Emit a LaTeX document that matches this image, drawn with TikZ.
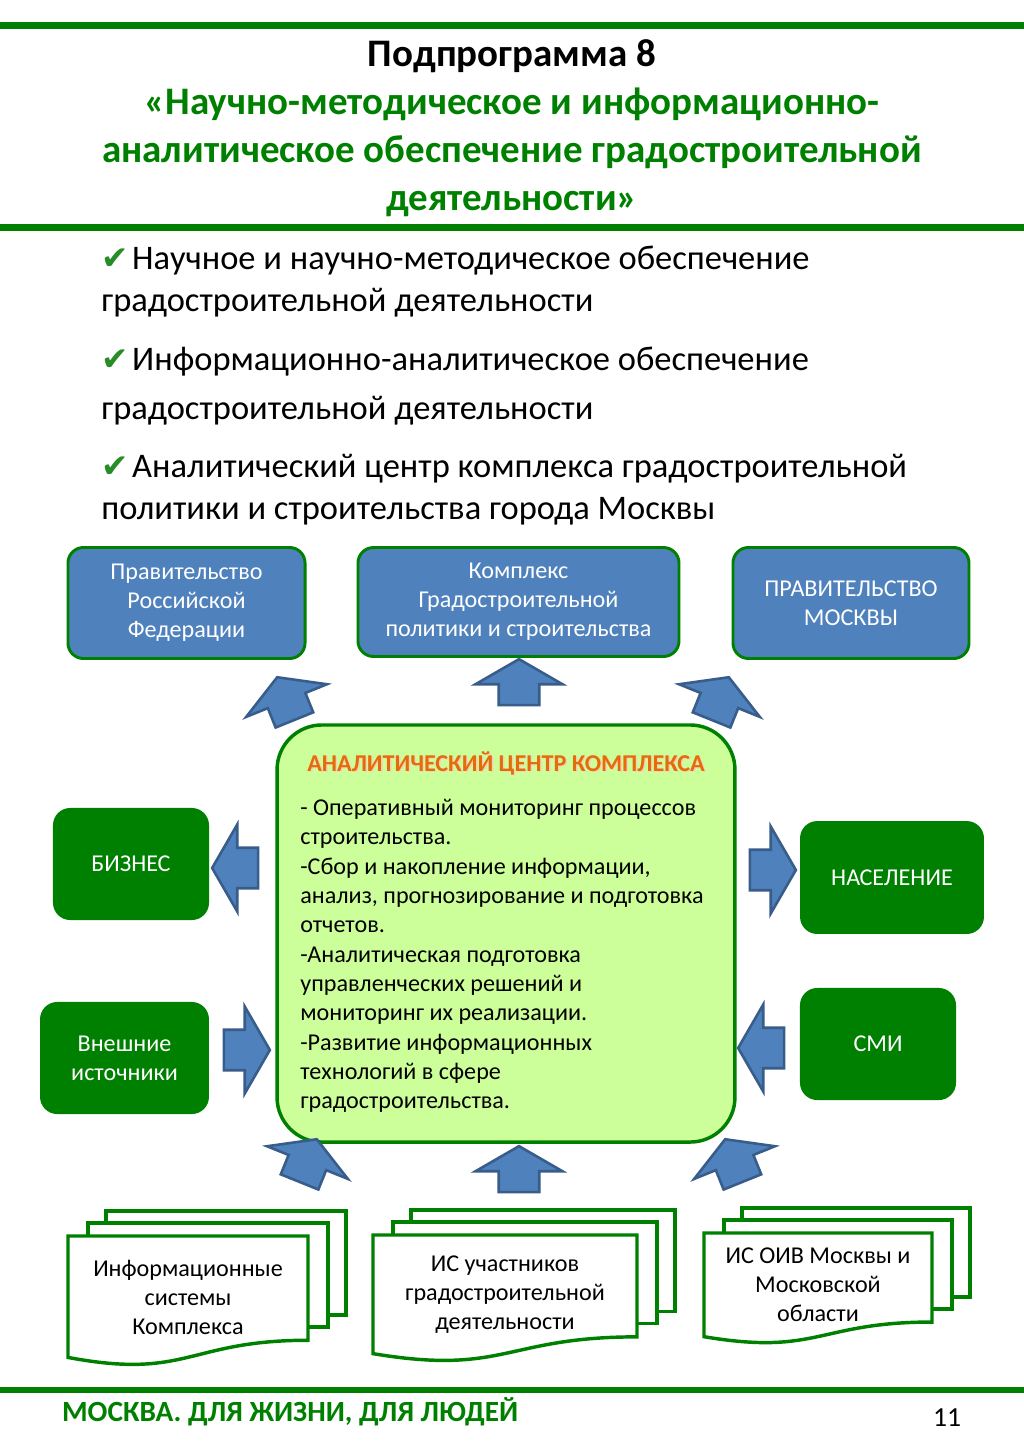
\documentclass[tikz,border=0pt]{standalone}
\usepackage{fontspec}
\setmainfont{Carlito}
\newfontfamily\symfont{DejaVu Sans}
\usetikzlibrary{shapes.arrows}

\definecolor{pagegreen}{RGB}{0,128,0}
\definecolor{boxblue}{RGB}{79,129,189}
\definecolor{arrowline}{RGB}{56,93,138}
\definecolor{centerbg}{RGB}{204,255,153}
\definecolor{headorange}{RGB}{228,108,10}
\definecolor{checkgreen}{RGB}{40,140,40}

% green tick before each task
\newcommand{\tick}{{\symfont\fontsize{19}{19}\selectfont\color{checkgreen}✔}\kern2pt}

\tikzset{
	bluebox/.style={draw=pagegreen, fill=boxblue, line width=1.7pt, rounded corners=9pt,
		text=white, align=center, font=\fontsize{14}{16.8}\selectfont},
	greenbox/.style={fill=pagegreen, rounded corners=10pt,
		text=white, align=center, font=\fontsize{14}{16.8}\selectfont},
	blockarrow/.style={single arrow, draw=arrowline, fill=boxblue, line width=1.5pt,
		inner xsep=0pt, inner ysep=11pt, single arrow head extend=13.5pt,
		single arrow tip angle=120, minimum height=26.7pt},
	docline/.style={draw=pagegreen, fill=white, line width=2pt},
	doctext/.style={align=center, font=\fontsize{14}{16.8}\selectfont},
	bullettext/.style={anchor=north west, inner sep=0pt, align=left,
		font=\fontsize{20}{24.4}\selectfont},
}

% stack of three pages: name, left x, top y, width, height, text
\newcommand{\docstack}[6]{
	% back pages
	\draw[docline] (#2+38,#3-25) rectangle (#2+38+#4,#3-25+0.8*#5);
	\draw[docline] (#2+20,#3-13) rectangle (#2+20+#4,#3-13+0.8*#5);
	% front page with wavy bottom
	\draw[docline] (#2,#3) -- (#2+#4,#3) -- (#2+#4,#3+0.802*#5)
		.. controls (#2+0.5*#4,#3+0.802*#5) and (#2+0.5*#4,#3+1.1075*#5) .. (#2,#3+0.934*#5) -- cycle;
	\node[doctext] (#1) at (#2+0.5*#4,#3+0.47*#5) {#6};
}

\begin{document}
\begin{tikzpicture}[x=0.58pt, y=-0.58pt]

\useasboundingbox (0,0) rectangle (1024,1452);
\fill[white] (0,0) rectangle (1024,1452);

% rules of the page
\fill[pagegreen] (0,22) rectangle (1024,29);
\fill[pagegreen] (0,224) rectangle (1024,231);
\fill[pagegreen] (0,1387) rectangle (1024,1393);

% title
\node[align=center, text=pagegreen, font=\bfseries\fontsize{22.6}{27.9}\selectfont] (title) at (512,128) {
	\textcolor{black}{Подпрограмма 8}\\
	«Научно-методическое и информационно-\\
	аналитическое обеспечение градостроительной\\
	деятельности»};

% list of tasks
\node[bullettext] (point1) at (101,246) {\tick Научное и научно-методическое обеспечение\\
	градостроительной деятельности};
\node[bullettext] (point2) at (101,347) {\tick Информационно-аналитическое обеспечение\\[4pt]
	градостроительной деятельности};
\node[bullettext] (point3) at (101,454) {\tick Аналитический центр комплекса градостроительной\\
	политики и строительства города Москвы};

% upper row
\node[bluebox, minimum width=137.5pt, minimum height=64.4pt] (govrf) at (186.5,603)
	{Правительство\\Российской\\Федерации};
\node[bluebox, minimum width=186.2pt, minimum height=63.2pt] (complex) at (518.5,602)
	{Комплекс\\Градостроительной\\политики и строительства};
\node[bluebox, minimum width=136.9pt, minimum height=64.4pt] (govmsk) at (851,603)
	{ПРАВИТЕЛЬСТВО\\МОСКВЫ};

% centre
\node[draw=pagegreen, fill=centerbg, line width=2pt, rounded corners=26pt,
	minimum width=265.6pt, minimum height=241.9pt] (centre) at (506,933.5) {};
\node[text=headorange!30, font=\bfseries\fontsize{14}{16.8}\selectfont] (centreglow) at (507.5,764.5)
	{АНАЛИТИЧЕСКИЙ ЦЕНТР КОМПЛЕКСА};
\node[text=headorange, font=\bfseries\fontsize{14}{16.8}\selectfont] (centrehead) at (506,763)
	{АНАЛИТИЧЕСКИЙ ЦЕНТР КОМПЛЕКСА};
\node[anchor=north west, inner sep=0pt, align=left, font=\fontsize{14}{17}\selectfont] (centrebody) at (300,799) {
	- Оперативный мониторинг процессов\\
	строительства.\\
	-Сбор и накопление информации,\\
	анализ, прогнозирование и подготовка\\
	отчетов.\\
	-Аналитическая подготовка\\
	управленческих решений и\\
	мониторинг их реализации.\\
	-Развитие информационных\\
	технологий в сфере\\
	градостроительства.};

% sides
\node[greenbox, minimum width=90.5pt, minimum height=65pt] (business) at (131,864) {БИЗНЕС};
\node[greenbox, minimum width=98pt, minimum height=65pt] (outer) at (124.5,1058) {Внешние\\источники};
\node[greenbox, minimum width=106.7pt, minimum height=65.5pt] (people) at (892,877.5) {НАСЕЛЕНИЕ};
\node[greenbox, minimum width=90.5pt, minimum height=65pt] (media) at (878,1044) {СМИ};

% lower row
\docstack{iscomplex}{68}{1236}{240}{130}{Информационные\\системы\\Комплекса}
\docstack{isparts}{373}{1235}{264}{127}{ИС участников\\градостроительной\\деятельности}
\docstack{isoiv}{704}{1233}{228}{111}{ИС ОИВ Москвы и\\Московской\\области}

% arrows
\node[blockarrow, rotate=112] (togovrf) at (288,704) {};
\node[blockarrow, rotate=90] (tocomplex) at (519,688) {};
\node[blockarrow, rotate=68] (togovmsk) at (718,704) {};
\node[blockarrow, rotate=180] (tobusiness) at (241,868) {};
\node[blockarrow, rotate=0] (fromouter) at (241,1050) {};
\node[blockarrow, rotate=0] (topeople) at (767,870) {};
\node[blockarrow, rotate=180] (frommedia) at (767,1048) {};
\node[blockarrow, rotate=68] (fromcomplex) at (306,1166) {};
\node[blockarrow, rotate=90] (fromparts) at (519,1175) {};
\node[blockarrow, rotate=112] (fromoiv) at (736,1166) {};

% footer
\node[anchor=west, text=pagegreen, font=\bfseries\fontsize{17}{20}\selectfont] (motto) at (56,1412)
	{МОСКВА. ДЛЯ ЖИЗНИ, ДЛЯ ЛЮДЕЙ};
\node[font=\fontsize{16}{18}\selectfont] (pageno) at (947,1418) {11};

\end{tikzpicture}
\end{document}
